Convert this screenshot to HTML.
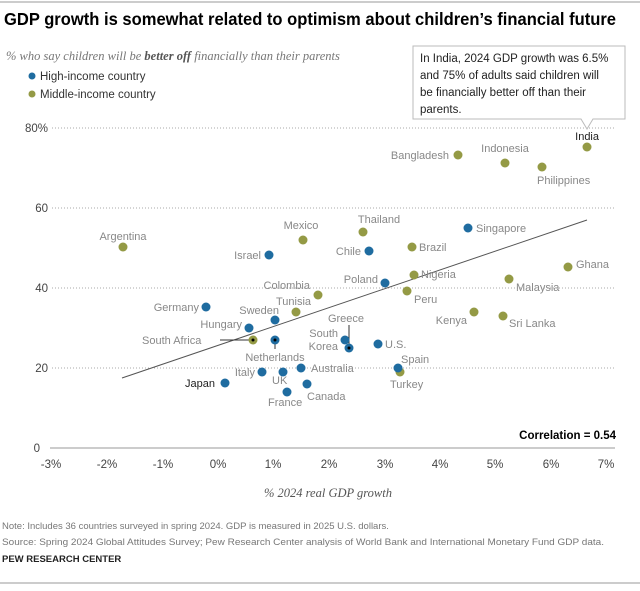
<!DOCTYPE html>
<html><head><meta charset="utf-8"><style>
body{margin:0;background:#fff;}
svg text{font-family:"Liberation Sans",sans-serif;}
</style></head><body>
<svg width="640" height="586" viewBox="0 0 640 586" xmlns="http://www.w3.org/2000/svg">
<line x1="0" y1="2" x2="640" y2="2" stroke="#bbb" stroke-width="1.5"/>
<line x1="0" y1="583" x2="640" y2="583" stroke="#bbb" stroke-width="1.5"/>
<text x="4" y="25" font-size="17.5" font-weight="bold" fill="#000" textLength="612" lengthAdjust="spacingAndGlyphs">GDP growth is somewhat related to optimism about children’s financial future</text>
<text x="6" y="60" font-size="12.5" font-style="italic" fill="#777" style="font-family:'Liberation Serif',serif">% who say children will be <tspan font-weight="bold" fill="#555">better off</tspan> financially than their parents</text>
<circle cx="32" cy="76" r="3.5" fill="#1f6ca0"/><text x="40" y="80" font-size="11.5" fill="#333">High-income country</text>
<circle cx="32" cy="94" r="3.5" fill="#949a45"/><text x="40" y="98" font-size="11.5" fill="#333">Middle-income country</text>
<g stroke="#aaa" stroke-dasharray="1,2" stroke-width="1">
<line x1="52" y1="128" x2="615" y2="128"/><line x1="52" y1="208" x2="615" y2="208"/>
<line x1="52" y1="288" x2="615" y2="288"/><line x1="52" y1="368" x2="615" y2="368"/>
</g>
<line x1="50" y1="448" x2="615" y2="448" stroke="#999"/>
<g font-size="11.5" fill="#444">
<text x="48" y="132" text-anchor="end">80%</text><text x="48" y="212" text-anchor="end">60</text>
<text x="48" y="292" text-anchor="end">40</text><text x="48" y="372" text-anchor="end">20</text>
<text x="40" y="452" text-anchor="end">0</text>
</g>
<g font-size="11.5" fill="#444" text-anchor="middle">
<text x="51" y="468">-3%</text><text x="107" y="468">-2%</text><text x="163" y="468">-1%</text><text x="218" y="468">0%</text><text x="273" y="468">1%</text><text x="329" y="468">2%</text><text x="385" y="468">3%</text><text x="440" y="468">4%</text><text x="495" y="468">5%</text><text x="551" y="468">6%</text><text x="606" y="468">7%</text>
</g>
<text x="328" y="497" font-size="12.5" font-style="italic" fill="#555" text-anchor="middle" style="font-family:'Liberation Serif',serif">% 2024 real GDP growth</text>
<text x="616" y="439" font-size="11.5" font-weight="bold" fill="#000" text-anchor="end">Correlation = 0.54</text>
<line x1="122" y1="378" x2="587" y2="220" stroke="#555" stroke-width="1"/>
<!-- annotation -->
<path d="M413,46 H625 V119 H593 L587,129 L581,119 H413 Z" fill="#fff" stroke="#bbb"/>
<g font-size="11.5" fill="#222"><text x="420" y="62">In India, 2024 GDP growth was 6.5%</text><text x="420" y="79">and 75% of adults said children will</text><text x="420" y="96">be financially better off than their</text><text x="420" y="113">parents.</text></g>
<!-- leader lines -->
<line x1="220" y1="340" x2="253" y2="340" stroke="#333"/><circle cx="253" cy="340" r="1.5" fill="#000"/>
<line x1="275" y1="340" x2="275" y2="349" stroke="#333"/>
<line x1="349" y1="348" x2="349" y2="325" stroke="#333"/>
<g fill="#949a45">
<circle cx="587" cy="147" r="4.5"/><circle cx="458" cy="155" r="4.5"/><circle cx="505" cy="163" r="4.5"/><circle cx="542" cy="167" r="4.5"/>
<circle cx="303" cy="240" r="4.5"/><circle cx="363" cy="232" r="4.5"/><circle cx="412" cy="247" r="4.5"/><circle cx="123" cy="247" r="4.5"/>
<circle cx="318" cy="295" r="4.5"/><circle cx="296" cy="312" r="4.5"/><circle cx="414" cy="275" r="4.5"/><circle cx="407" cy="291" r="4.5"/>
<circle cx="568" cy="267" r="4.5"/><circle cx="509" cy="279" r="4.5"/><circle cx="474" cy="312" r="4.5"/><circle cx="503" cy="316" r="4.5"/>
<circle cx="253" cy="340" r="4.5"/><circle cx="400" cy="372" r="4.5"/>
</g>
<g fill="#1f6ca0">
<circle cx="269" cy="255" r="4.5"/><circle cx="369" cy="251" r="4.5"/><circle cx="468" cy="228" r="4.5"/><circle cx="385" cy="283" r="4.5"/>
<circle cx="206" cy="307" r="4.5"/><circle cx="275" cy="320" r="4.5"/><circle cx="249" cy="328" r="4.5"/><circle cx="275" cy="340" r="4.5"/>
<circle cx="345" cy="340" r="4.5"/><circle cx="349" cy="348" r="4.5"/><circle cx="378" cy="344" r="4.5"/><circle cx="398" cy="368" r="4.5"/>
<circle cx="262" cy="372" r="4.5"/><circle cx="283" cy="372" r="4.5"/><circle cx="301" cy="368" r="4.5"/><circle cx="307" cy="384" r="4.5"/>
<circle cx="287" cy="392" r="4.5"/><circle cx="225" cy="383" r="4.5"/>
</g>
<circle cx="253" cy="340" r="1.5" fill="#000"/><circle cx="275" cy="340" r="1.5" fill="#000"/><circle cx="349" cy="348" r="1.5" fill="#000"/>
<g font-size="11" fill="#888">
<text x="599" y="140" text-anchor="end" fill="#222">India</text>
<text x="449" y="159" text-anchor="end">Bangladesh</text>
<text x="505" y="152" text-anchor="middle">Indonesia</text>
<text x="537" y="184">Philippines</text>
<text x="301" y="229" text-anchor="middle">Mexico</text>
<text x="379" y="223" text-anchor="middle">Thailand</text>
<text x="419" y="251">Brazil</text>
<text x="123" y="240" text-anchor="middle">Argentina</text>
<text x="261" y="259" text-anchor="end">Israel</text>
<text x="361" y="255" text-anchor="end">Chile</text>
<text x="476" y="232">Singapore</text>
<text x="378" y="283" text-anchor="end">Poland</text>
<text x="421" y="278">Nigeria</text>
<text x="414" y="303">Peru</text>
<text x="576" y="268">Ghana</text>
<text x="516" y="291">Malaysia</text>
<text x="467" y="324" text-anchor="end">Kenya</text>
<text x="509" y="327">Sri Lanka</text>
<text x="310" y="289" text-anchor="end">Colombia</text>
<text x="276" y="305">Tunisia</text>
<text x="199" y="311" text-anchor="end">Germany</text>
<text x="279" y="314" text-anchor="end">Sweden</text>
<text x="242" y="328" text-anchor="end">Hungary</text>
<text x="142" y="344">South Africa</text>
<text x="275" y="361" text-anchor="middle">Netherlands</text>
<text x="346" y="322" text-anchor="middle">Greece</text>
<text x="338" y="337" text-anchor="end">South</text>
<text x="338" y="350" text-anchor="end">Korea</text>
<text x="385" y="348">U.S.</text>
<text x="401" y="363">Spain</text>
<text x="390" y="388">Turkey</text>
<text x="255" y="376" text-anchor="end">Italy</text>
<text x="272" y="384">UK</text>
<text x="311" y="372">Australia</text>
<text x="307" y="400">Canada</text>
<text x="268" y="406">France</text>
<text x="215" y="387" text-anchor="end" fill="#222">Japan</text>
</g>
<g font-size="9.5" fill="#777">
<text x="2" y="529">Note: Includes 36 countries surveyed in spring 2024. GDP is measured in 2025 U.S. dollars.</text>
<text x="2" y="545" textLength="602" lengthAdjust="spacingAndGlyphs">Source: Spring 2024 Global Attitudes Survey; Pew Research Center analysis of World Bank and International Monetary Fund GDP data.</text>
</g>
<text x="2" y="562" font-size="9.5" font-weight="bold" fill="#222">PEW RESEARCH CENTER</text>
</svg>
</body></html>
